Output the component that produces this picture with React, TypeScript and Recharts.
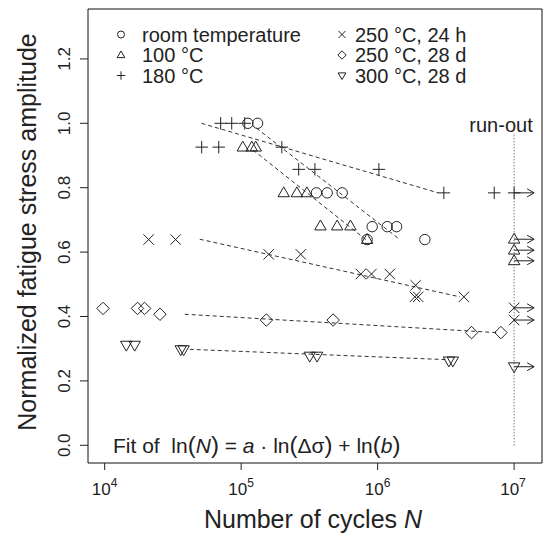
import React from 'react';
import {
  Customized,
  ReferenceArea,
  ReferenceLine,
  Scatter,
  ScatterChart,
  XAxis,
  YAxis,
} from 'recharts';

const FONT = '"Liberation Sans", Arial, Helvetica, sans-serif';
const INK = '#222';

// axis ranges (number of cycles on a log axis, normalized amplitude)
const X_MIN = 7550;
const X_MAX = 16000000;
const Y_MIN = -0.055;
const Y_MAX = 1.355;
const xTicks = [1e4, 1e5, 1e6, 1e7];
const yTicks = [0, 0.2, 0.4, 0.6, 0.8, 1.0, 1.2];

// failed specimens
const roomTempN = [112000, 132000, 356000, 427000, 550000, 912000, 1175000, 1377000, 837000, 2218000];
const roomTempAmp = [1.0, 1.0, 0.784, 0.784, 0.784, 0.679, 0.679, 0.679, 0.639, 0.639];

const t100N = [102800, 119700, 127900, 205000, 256000, 303000, 381000, 505000, 632000, 837000];
const t100Amp = [0.926, 0.926, 0.926, 0.784, 0.784, 0.784, 0.681, 0.681, 0.681, 0.639];

const t180N = [70800, 85300, 106200, 51400, 68500, 198600, 264000, 347000, 1021000, 3055000, 7145000];
const t180Amp = [1.0, 1.0, 1.0, 0.926, 0.926, 0.926, 0.857, 0.857, 0.857, 0.784, 0.784];

const t250hN = [21000, 33100, 159200, 273500, 753000, 901000, 1227000, 1897000, 1875000, 1982000, 4285000];
const t250hAmp = [0.639, 0.639, 0.593, 0.593, 0.532, 0.532, 0.532, 0.497, 0.461, 0.461, 0.461];

const t250dN = [9730, 17400, 19600, 25400, 153100, 472000, 4875000, 8000000];
const t250dAmp = [0.425, 0.425, 0.425, 0.407, 0.389, 0.389, 0.35, 0.35];

const t300dN = [14400, 16600, 36100, 37900, 318000, 360000, 3327000, 3556000];
const t300dAmp = [0.311, 0.311, 0.297, 0.297, 0.277, 0.277, 0.262, 0.262];

// run-outs at 10^7 cycles
const RUNOUT_N = 1e7;
const runout180Amp = [0.784];
const runout100Amp = [0.64, 0.606, 0.573];
const runout250hAmp = [0.427, 0.389];
const runout300dAmp = [0.244];

// fitted lines, start and end
const fitRoomN = [129400, 1413000];
const fitRoomAmp = [0.985, 0.643];
const fit100N = [122200, 830000];
const fit100Amp = [0.917, 0.637];
const fit180N = [51200, 2780000];
const fit180Amp = [1.0, 0.784];
const fit250hN = [49700, 4009000];
const fit250hAmp = [0.64, 0.461];
const fit250dN = [38600, 7450000];
const fit250dAmp = [0.407, 0.35];
const fit300dN = [42000, 3199000];
const fit300dAmp = [0.298, 0.266];

type Kind = 'circle' | 'triangle' | 'plus' | 'cross' | 'diamond' | 'triangleDown';

const pts = (n: number[], amp: number[]) => n.map((x, i) => ({ x, y: amp[i] }));
const runout = (amp: number[]) => amp.map((y) => ({ x: RUNOUT_N, y }));

function Marker({ kind, cx, cy, s }: { kind: Kind; cx: number; cy: number; s: number }) {
  const p = { fill: 'none', stroke: INK, strokeWidth: 1 };
  switch (kind) {
    case 'circle':
      return <circle cx={cx} cy={cy} r={s} {...p} />;
    case 'triangle':
      return (
        <polygon
          points={`${cx},${cy - s * 1.15} ${cx - s * 1.1},${cy + s * 0.75} ${cx + s * 1.1},${cy + s * 0.75}`}
          {...p}
        />
      );
    case 'triangleDown':
      return (
        <polygon
          points={`${cx},${cy + s * 1.15} ${cx - s * 1.1},${cy - s * 0.75} ${cx + s * 1.1},${cy - s * 0.75}`}
          {...p}
        />
      );
    case 'plus':
      return (
        <path d={`M${cx - s * 1.2},${cy}H${cx + s * 1.2}M${cx},${cy - s * 1.2}V${cy + s * 1.2}`} {...p} />
      );
    case 'cross':
      return (
        <path
          d={`M${cx - s},${cy - s}L${cx + s},${cy + s}M${cx - s},${cy + s}L${cx + s},${cy - s}`}
          {...p}
        />
      );
    case 'diamond':
      return (
        <polygon
          points={`${cx},${cy - s * 1.2} ${cx + s * 1.2},${cy} ${cx},${cy + s * 1.2} ${cx - s * 1.2},${cy}`}
          {...p}
        />
      );
  }
  return null;
}

const shapeOf = (kind: Kind, arrow = false) => (props: any) => {
  const { cx, cy } = props;
  if (cx == null || cy == null) return <g />;
  return (
    <g>
      <Marker kind={kind} cx={cx} cy={cy} s={5.2} />
      {arrow && (
        <g fill="none" stroke={INK} strokeWidth={1}>
          <line x1={cx} y1={cy} x2={cx + 20} y2={cy} />
          <polyline points={`${cx + 13},${cy - 4} ${cx + 20},${cy} ${cx + 13},${cy + 4}`} />
        </g>
      )}
    </g>
  );
};

function XTick(props: any) {
  const { x, y, payload } = props;
  const e = Math.round(Math.log10(payload.value));
  return (
    <text x={x} y={y + 23} textAnchor="middle" fontSize={17} fill={INK} fontFamily={FONT}>
      10
      <tspan dy={-8} fontSize={12}>
        {e}
      </tspan>
    </text>
  );
}

function YTick(props: any) {
  const { x, y, payload } = props;
  const tx = x - 8;
  return (
    <text
      x={tx}
      y={y}
      transform={`rotate(-90, ${tx}, ${y})`}
      textAnchor="middle"
      fontSize={17}
      fill={INK}
      fontFamily={FONT}
    >
      {Number(payload.value).toFixed(1)}
    </text>
  );
}

const legendLeft: Array<[Kind, string]> = [
  ['circle', 'room temperature'],
  ['triangle', '100 °C'],
  ['plus', '180 °C'],
];
const legendRight: Array<[Kind, string]> = [
  ['cross', '250 °C, 24 h'],
  ['diamond', '250 °C, 28 d'],
  ['triangleDown', '300 °C, 28 d'],
];
const legendRows = [34.5, 55, 75.5];

function Annotations() {
  const nb = '\u00a0';
  return (
    <g fontFamily={FONT} fill={INK}>
      {legendLeft.map(([k, label], i) => (
        <g key={label}>
          <Marker kind={k} cx={121} cy={legendRows[i]} s={3.5} />
          <text x={142} y={legendRows[i] + 7} fontSize={20}>
            {label}
          </text>
        </g>
      ))}
      {legendRight.map(([k, label], i) => (
        <g key={label}>
          <Marker kind={k} cx={342} cy={legendRows[i]} s={3.5} />
          <text x={355} y={legendRows[i] + 7} fontSize={20}>
            {label}
          </text>
        </g>
      ))}
      <text x={501} y={132} textAnchor="middle" fontSize={20}>
        run-out
      </text>
      <text x={113} y={453} fontSize={21}>
        {`Fit of${nb}${nb}ln`}
        <tspan fontSize={24}>(</tspan>
        <tspan fontStyle="italic">N</tspan>
        <tspan fontSize={24}>)</tspan>
        {`${nb}=${nb}`}
        <tspan fontStyle="italic">a</tspan>
        {`${nb}·${nb}ln`}
        <tspan fontSize={24}>(</tspan>
        {'Δσ'}
        <tspan fontSize={24}>)</tspan>
        {`${nb}+${nb}ln`}
        <tspan fontSize={24}>(</tspan>
        <tspan fontStyle="italic">b</tspan>
        <tspan fontSize={24}>)</tspan>
      </text>
      <text x={313} y={528} textAnchor="middle" fontSize={25}>
        Number of cycles <tspan fontStyle="italic">N</tspan>
      </text>
      <text transform="rotate(-90)" x={-232} y={36} textAnchor="middle" fontSize={25}>
        Normalized fatigue stress amplitude
      </text>
    </g>
  );
}

const fits = [
  { id: 'room', n: fitRoomN, amp: fitRoomAmp },
  { id: '100', n: fit100N, amp: fit100Amp },
  { id: '180', n: fit180N, amp: fit180Amp },
  { id: '250h', n: fit250hN, amp: fit250hAmp },
  { id: '250d', n: fit250dN, amp: fit250dAmp },
  { id: '300d', n: fit300dN, amp: fit300dAmp },
];

export default function App() {
  return (
    <div style={{ position: 'absolute', left: 0, top: 0, width: 545, height: 533, background: '#fff' }}>
      <ScatterChart
        width={545}
        height={533}
        margin={{ top: 9, right: 3, bottom: 0, left: 0 }}
        style={{ fontFamily: FONT }}
      >
        <XAxis
          type="number"
          dataKey="x"
          scale="log"
          domain={[X_MIN, X_MAX]}
          ticks={xTicks}
          allowDataOverflow
          axisLine={false}
          tickSize={7}
          tickLine={{ stroke: INK }}
          tick={<XTick />}
          height={70}
        />
        <YAxis
          type="number"
          dataKey="y"
          domain={[Y_MIN, Y_MAX]}
          ticks={yTicks}
          allowDataOverflow
          axisLine={false}
          tickSize={8}
          tickLine={{ stroke: INK }}
          tick={<YTick />}
          width={88}
        />
        <ReferenceArea
          x1={X_MIN}
          x2={X_MAX}
          y1={Y_MIN}
          y2={Y_MAX}
          fill="none"
          stroke="#111"
          strokeWidth={1}
          ifOverflow="visible"
        />
        <ReferenceLine
          segment={[
            { x: RUNOUT_N, y: 0 },
            { x: RUNOUT_N, y: 0.97 },
          ]}
          stroke="#444"
          strokeDasharray="1 2"
          ifOverflow="visible"
        />
        {fits.map((f) => (
          <ReferenceLine
            key={f.id}
            segment={[
              { x: f.n[0], y: f.amp[0] },
              { x: f.n[1], y: f.amp[1] },
            ]}
            stroke="#333"
            strokeDasharray="4 3"
            ifOverflow="visible"
          />
        ))}
        <Scatter data={pts(roomTempN, roomTempAmp)} shape={shapeOf('circle')} isAnimationActive={false} />
        <Scatter data={pts(t100N, t100Amp)} shape={shapeOf('triangle')} isAnimationActive={false} />
        <Scatter data={pts(t180N, t180Amp)} shape={shapeOf('plus')} isAnimationActive={false} />
        <Scatter data={pts(t250hN, t250hAmp)} shape={shapeOf('cross')} isAnimationActive={false} />
        <Scatter data={pts(t250dN, t250dAmp)} shape={shapeOf('diamond')} isAnimationActive={false} />
        <Scatter data={pts(t300dN, t300dAmp)} shape={shapeOf('triangleDown')} isAnimationActive={false} />
        <Scatter data={runout(runout180Amp)} shape={shapeOf('plus', true)} isAnimationActive={false} />
        <Scatter data={runout(runout100Amp)} shape={shapeOf('triangle', true)} isAnimationActive={false} />
        <Scatter data={runout(runout250hAmp)} shape={shapeOf('cross', true)} isAnimationActive={false} />
        <Scatter data={runout(runout300dAmp)} shape={shapeOf('triangleDown', true)} isAnimationActive={false} />
        <Customized component={<Annotations />} />
      </ScatterChart>
    </div>
  );
}
